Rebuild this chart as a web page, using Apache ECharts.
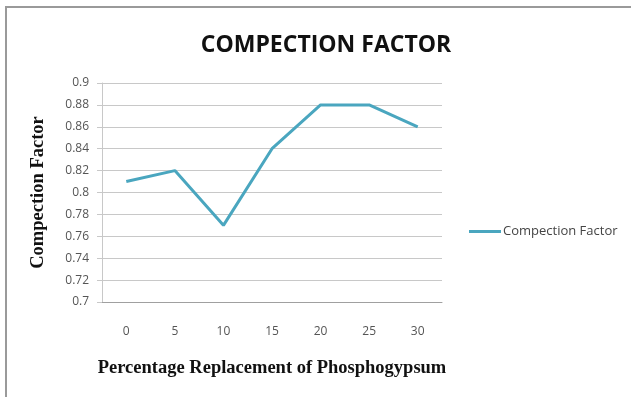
<!DOCTYPE html>
<html>
<head>
<meta charset="utf-8">
<script src="https://cdn.jsdelivr.net/npm/echarts@6/dist/echarts.min.js"></script>
<style>
  html, body { margin: 0; padding: 0; background: #fff; }
  #chart { width: 631px; height: 397px; }
</style>
</head>
<body>
<div id="chart"></div>
<script>
// Replacement percentage of phosphogypsum (x categories)
const categories = ['0', '5', '10', '15', '20', '25', '30'];
// Compaction factor measured at each replacement level
const compactionFactor = [0.81, 0.82, 0.77, 0.84, 0.88, 0.88, 0.86];
const seriesName = 'Compection Factor';

const chart = echarts.init(document.getElementById('chart'), null, { renderer: 'canvas' });

chart.setOption({
  backgroundColor: '#ffffff',
  animation: false,
  graphic: [
    {
      type: 'rect',
      shape: { x: 6, y: 7, width: 640, height: 400 },
      style: { fill: 'none', stroke: '#9a9a9a', lineWidth: 2 },
      silent: true
    }
  ],
  title: {
    text: 'COMPECTION FACTOR',
    left: 321,
    top: 29,
    textAlign: 'center',
    textStyle: {
      fontFamily: 'Open Sans',
      fontWeight: 'bold',
      fontSize: 23,
      color: '#111111',
      letterSpacing: -1.2
    }
  },
  legend: {
    data: [seriesName],
    left: 464,
    top: 220,
    orient: 'vertical',
    itemWidth: 32,
    itemHeight: 3,
    itemGap: 6,
    icon: 'rect',
    textStyle: { fontFamily: 'Open Sans', fontSize: 13, color: '#444', padding: [0, 0, 0, -3] }
  },
  grid: {
    left: 102,
    right: 189,
    top: 83,
    bottom: 95,
    containLabel: false
  },
  xAxis: {
    type: 'category',
    data: categories,
    boundaryGap: true,
    name: 'Percentage Replacement of Phosphogypsum',
    nameLocation: 'middle',
    nameGap: 57,
    nameTextStyle: {
      fontFamily: 'Liberation Serif',
      fontWeight: 'bold',
      fontSize: 18.5,
      color: '#111'
    },
    axisLine: { lineStyle: { color: '#a0a0a0', width: 1 } },
    axisTick: { show: false },
    axisLabel: { margin: 24, fontFamily: 'Open Sans', fontSize: 12, color: '#555' }
  },
  yAxis: {
    type: 'value',
    min: 0.7,
    max: 0.9,
    interval: 0.02,
    name: 'Compection Factor',
    nameLocation: 'middle',
    nameGap: 54,
    nameRotate: 90,
    nameTextStyle: {
      fontFamily: 'Liberation Serif',
      fontWeight: 'bold',
      fontSize: 18.5,
      color: '#111'
    },
    axisLine: { show: true, lineStyle: { color: '#c8c8c8' } },
    axisTick: { show: true, length: 5, lineStyle: { color: '#c8c8c8' } },
    splitLine: { lineStyle: { color: '#c8c8c8', width: 1 } },
    axisLabel: {
      margin: 13,
      fontFamily: 'Open Sans',
      fontSize: 12,
      color: '#555',
      formatter: v => String(Math.round(v * 100) / 100)
    }
  },
  series: [
    {
      name: seriesName,
      type: 'line',
      data: compactionFactor,
      symbol: 'none',
      lineStyle: { color: '#4aa6bf', width: 3 },
      itemStyle: { color: '#4aa6bf' }
    }
  ]
});
</script>
</body>
</html>
